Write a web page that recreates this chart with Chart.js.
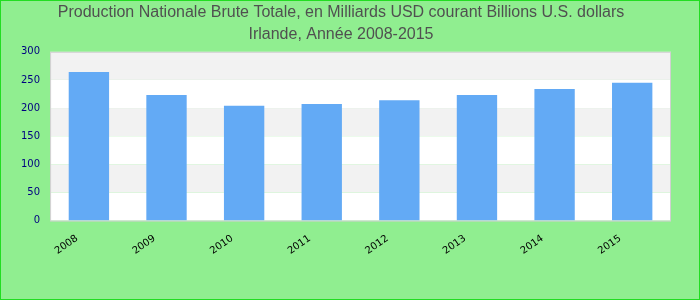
<!DOCTYPE html>
<html>
<head>
<meta charset="utf-8">
<script src="https://cdn.jsdelivr.net/npm/chart.js@4"></script>
<style>
  html, body { margin: 0; padding: 0; }
  #wrap {
    width: 700px; height: 300px; box-sizing: border-box;
    border: 1px solid #22dd22; background: #90ee90;
  }
</style>
</head>
<body>
<div id="wrap"><canvas id="gnpChart" width="698" height="298"></canvas></div>
<script>
// Data
const years = ['2008', '2009', '2010', '2011', '2012', '2013', '2014', '2015'];
const gnpValues = [264, 223, 204, 207, 214, 223, 234, 245];
const titleLines = [
  'Production Nationale Brute Totale, en Milliards USD courant Billions U.S. dollars',
  'Irlande, Année 2008-2015'
];

// Alternating horizontal bands behind the bars + plot border
const bandPlugin = {
  id: 'bands',
  beforeDatasetsDraw(chart) {
    const { ctx, chartArea, scales } = chart;
    const y = scales.y;
    ctx.save();
    for (let v = 0; v < 300; v += 50) {
      const top = y.getPixelForValue(v + 50);
      const bot = y.getPixelForValue(v);
      ctx.fillStyle = (v / 50) % 2 === 1 ? '#f2f2f2' : '#ffffff';
      ctx.fillRect(chartArea.left, top, chartArea.right - chartArea.left, bot - top);
    }
    ctx.strokeStyle = '#d0d0d0';
    ctx.lineWidth = 1;
    ctx.strokeRect(chartArea.left + 0.5, chartArea.top + 0.5,
      chartArea.right - chartArea.left - 1, chartArea.bottom - chartArea.top);
    ctx.restore();
  }
};

const ctx = document.getElementById('gnpChart').getContext('2d');
const gnpChart = new Chart(ctx, {
  type: 'bar',
  data: {
    labels: years,
    datasets: [{
      label: 'PNB',
      data: gnpValues,
      backgroundColor: '#63aaf5',
      borderWidth: 0,
      barPercentage: 0.52,
      categoryPercentage: 1.0
    }]
  },
  options: {
    responsive: false,
    animation: false,
    layout: { padding: { left: 10, right: 28, top: 0, bottom: 30 } },
    plugins: {
      legend: { display: false },
      tooltip: { enabled: false },
      title: {
        display: true,
        text: titleLines,
        color: '#505050',
        font: { family: 'Liberation Sans, Arial', size: 16, weight: 'normal', lineHeight: 1.4 },
        padding: { top: 0, bottom: 6 }
      }
    },
    scales: {
      x: {
        grid: { display: false, drawTicks: false },
        border: { display: false },
        ticks: {
          color: '#000000',
          font: { family: 'DejaVu Sans', size: 10 },
          maxRotation: 35,
          minRotation: 35,
          padding: 12,
          labelOffset: -12
        }
      },
      y: {
        min: 0,
        max: 300,
        grid: { display: false, drawTicks: false },
        border: { display: false },
        ticks: {
          stepSize: 50,
          color: '#000080',
          font: { family: 'DejaVu Sans', size: 10 },
          padding: 10
        }
      }
    }
  },
  plugins: [bandPlugin]
});
</script>
</body>
</html>
